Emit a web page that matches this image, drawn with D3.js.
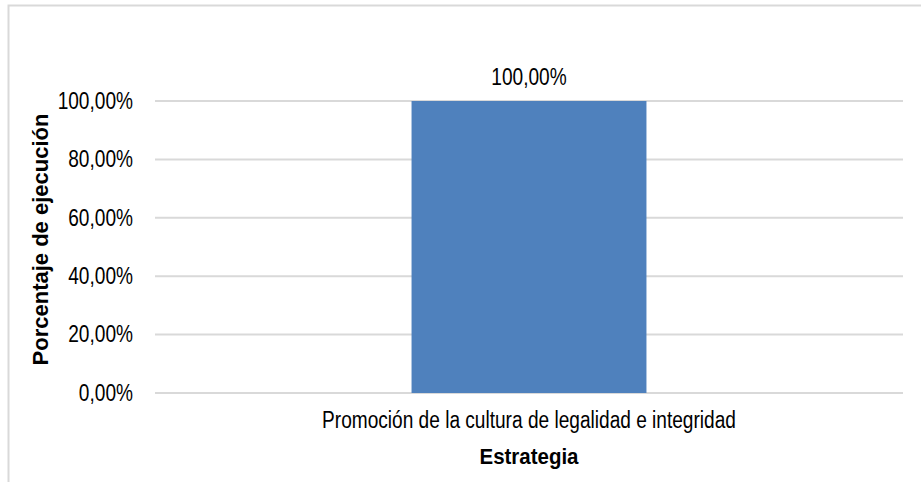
<!DOCTYPE html>
<html>
<head>
<meta charset="utf-8">
<script src="https://cdn.jsdelivr.net/npm/d3@7"></script>
<style>
  html, body { margin: 0; padding: 0; background: #fff; }
  svg { display: block; }
  text { font-family: "Liberation Sans", Arial, sans-serif; fill: #000; }
</style>
</head>
<body>
<script>
// Execution percentage by strategy
const categories = ["Promoción de la cultura de legalidad e integridad"];
const values = [100];
const yTicks = [0, 20, 40, 60, 80, 100];
const xTitle = "Estrategia";
const yTitle = "Porcentaje de ejecución";

const W = 921, H = 482;
const fmt = v => v.toFixed(2).replace(".", ",") + "%";
const LABEL_SIZE = 23;      // regular labels, set in a condensed face
const NARROW = 0.83;        // horizontal condensing factor for labels
const TITLE_SIZE = 22;      // bold axis titles

// condense a text selection horizontally, keeping its anchor point
function condense(factor) {
  return sel => sel.each(function () {
    const w = this.getComputedTextLength();
    d3.select(this).attr("textLength", w * factor).attr("lengthAdjust", "spacingAndGlyphs");
  });
}

const svg = d3.select("body").append("svg")
  .attr("width", W).attr("height", H);

// chart frame (clipped on the right and bottom)
svg.append("path")
  .attr("d", `M8.5,${H} L8.5,5.5 L${W},5.5`)
  .attr("fill", "none").attr("stroke", "#d9d9d9").attr("stroke-width", 2);

const plot = { left: 155, right: 903, top: 101, bottom: 393 };

const x = d3.scaleBand().domain(categories)
  .range([plot.left, plot.right]).paddingInner(0.522).paddingOuter(0.522);
const y = d3.scaleLinear().domain([0, 100]).range([plot.bottom, plot.top]);

// gridlines
svg.append("g").selectAll("line").data(yTicks).join("line")
  .attr("x1", plot.left).attr("x2", plot.right)
  .attr("y1", d => y(d)).attr("y2", d => y(d))
  .attr("stroke", "#d9d9d9").attr("stroke-width", 2);

// y tick labels
const yAxis = d3.axisLeft(y).tickValues(yTicks).tickFormat(fmt).tickSize(0).tickPadding(22);
const gy = svg.append("g").attr("transform", `translate(${plot.left},0)`).call(yAxis);
gy.select(".domain").remove();
gy.selectAll("text").attr("font-size", LABEL_SIZE).attr("font-family", null).attr("fill", "#000")
  .call(condense(NARROW));

// bars
svg.append("g").selectAll("rect").data(values).join("rect")
  .attr("x", (d, i) => x(categories[i]))
  .attr("width", x.bandwidth())
  .attr("y", d => y(d))
  .attr("height", d => y(0) - y(d))
  .attr("fill", "#4f81bd");

// value labels
svg.append("g").selectAll("text").data(values).join("text")
  .attr("x", (d, i) => x(categories[i]) + x.bandwidth() / 2)
  .attr("y", d => y(d) - 16)
  .attr("text-anchor", "middle").attr("font-size", LABEL_SIZE)
  .text(fmt)
  .call(condense(NARROW));

// category labels
svg.append("g").selectAll("text").data(categories).join("text")
  .attr("x", d => x(d) + x.bandwidth() / 2)
  .attr("y", 428)
  .attr("text-anchor", "middle").attr("font-size", LABEL_SIZE)
  .text(d => d)
  .call(condense(NARROW));

// axis titles
svg.append("text")
  .attr("x", (plot.left + plot.right) / 2).attr("y", 463.5)
  .attr("text-anchor", "middle").attr("font-size", TITLE_SIZE).attr("font-weight", "bold")
  .text(xTitle)
  .call(condense(0.93));

svg.append("text")
  .attr("transform", `translate(48,${239.5}) rotate(-90)`)
  .attr("text-anchor", "middle").attr("font-size", TITLE_SIZE).attr("font-weight", "bold")
  .text(yTitle);
</script>
</body>
</html>
